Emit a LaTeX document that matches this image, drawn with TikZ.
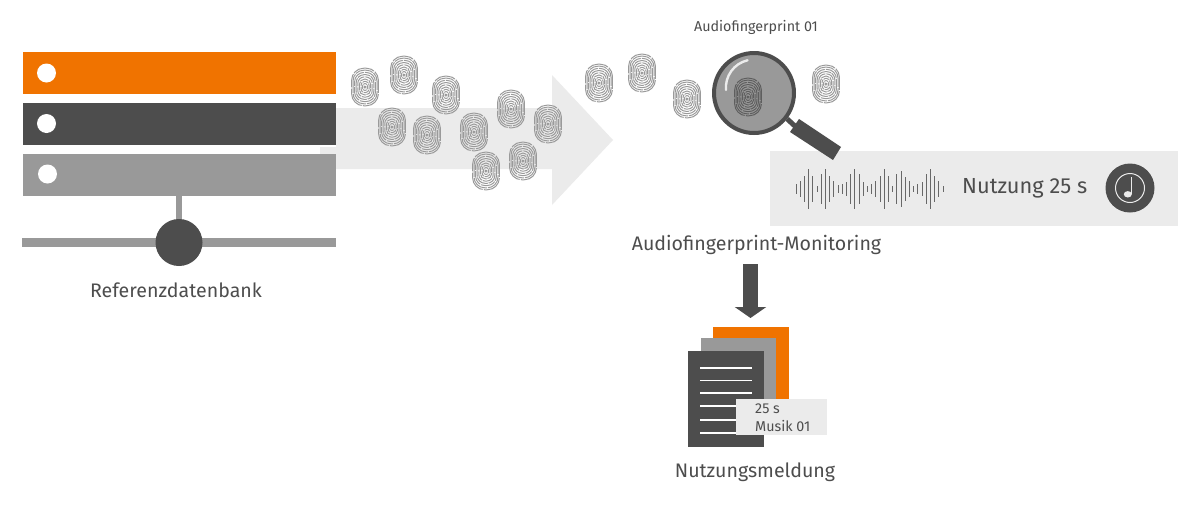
\documentclass[tikz,border=0pt]{standalone}
\usepackage{fontspec}
\usetikzlibrary{arrows.meta}
\setmainfont{Fira Sans}
\definecolor{orangeb}{HTML}{F07300}
\definecolor{darkb}{HTML}{4D4D4D}
\definecolor{grayb}{HTML}{999999}
\definecolor{lightb}{HTML}{EBEBEB}
\definecolor{printb}{HTML}{9A9A9A}
\definecolor{printd}{HTML}{5E5E5E}
\newcommand{\fpshape}[1]{%
  \foreach \r/\d/\g/\p in {0.8/2/0.5/0,2.4/4/0.7/1,4/6/0.8/5,5.6/8/0.7/2,7.2/10/0.9/7,8.8/13/0.8/3,10.4/15/1/11,12/18/1/6,13.4/22/1.2/15}{
    \draw[#1,line width=1pt,dash pattern=on \d pt off \g pt,dash phase=\p pt,rounded corners=0.9*\r pt] (-\r,-1.4*\r) rectangle (\r,1.4*\r);
  }}
\tikzset{
  fprint/.pic={\fpshape{printb}},
  fpdark/.pic={\fpshape{printd}},
  barbox/.style={rectangle,inner sep=0pt,minimum width=313pt,minimum height=42pt},
  dot/.style={circle,fill=white,inner sep=0pt,minimum size=19pt},
  lbl/.style={text=darkb,inner sep=0pt,font=\fontsize{19.6}{22}\selectfont},
  small/.style={text=darkb,inner sep=0pt,font=\fontsize{14.3}{16}\selectfont},
  wave/.style={draw=darkb!85!white,line width=0.9pt},
  docline/.style={draw=white,line width=1.2pt}
}
\begin{document}
\begin{tikzpicture}[x=1pt,y=-1pt]
\useasboundingbox[fill=white] (0,0) rectangle (1200,504);
% big arrow
\fill[lightb] (320,169) -- (320,147) -- (336,147) -- (336,108) -- (552,108) -- (552,75) -- (613,140) -- (552,205) -- (552,169) -- cycle;
% database
\node[barbox,fill=orangeb] (b1) at (179.5,73) {};
\node[barbox,fill=darkb] (b2) at (179.5,124) {};
\node[barbox,fill=grayb] (b3) at (179.5,174.5) {};
\node[dot] (d1) at (46.5,73) {};
\node[dot] (d2) at (46.5,123.5) {};
\node[dot] (d3) at (47.5,174) {};
\coordinate (busl) at (22,242.5);
\coordinate (busr) at (336,242.5);
\coordinate (hubc) at (179,242.5);
\draw[grayb,line width=9pt] (busl) -- (busr);
\draw[grayb,line width=6.5pt] (b3.south -| hubc) -- (hubc);
\node[circle,fill=darkb,inner sep=0pt,minimum size=47pt] (hub) at (hubc) {};
\node[lbl] (reftext) at (176,290) {Referenzdatenbank};
% fingerprints
\foreach \x/\y in {365/87,404/75,446/95,392/127,427/135,474/132,511/109,548/124,523/161,486/171,599/83,642/73,687/99,826/84}{
  \pic at (\x,\y) {fprint};
}
% panel
\fill[lightb] (770,151) rectangle (1178,226);
% magnifier
\fill[darkb] (799,119) -- (841,147) -- (833,160) -- (790,132) -- cycle;
\coordinate (neckb) at (797,128);
\node[circle,draw=darkb,line width=4pt,fill=grayb,inner sep=0pt,minimum size=80pt] (lens) at (754,93) {};
\draw[darkb,line width=5pt] (lens.-38) -- (neckb);
\pic at (748,97) {fpdark};
\draw[lightb,line width=2.4pt,line cap=round] (726,90) arc[start angle=185,end angle=103,radius=28pt];
\node[small] (aftext) at (756,27) {Audiofingerprint 01};
\foreach \i/\h in {0/5,1/8,2/13,3/20,4/13,5/3,6/15,7/20,8/13,9/8,10/4,11/5,12/7,13/15,14/20,15/15,16/7,17/3,18/5,19/8,20/13,21/20,22/13,23/3,24/15,25/18,26/12,27/8,28/3,29/5,30/7,31/15,32/20,33/13,34/8,35/3}{
  \draw[wave] ({796+4.2*\i},{189-\h}) -- ({796+4.2*\i},{189+\h});
}
\node[lbl,anchor=west,font=\fontsize{21.8}{24}\selectfont] (usetext) at (962,188.5) {Nutzung 25 s};
\node[circle,fill=darkb,inner sep=0pt,minimum size=49pt] (musicdisc) at (1130,188) {};
\node[circle,draw=lightb,line width=1pt,inner sep=0pt,minimum size=29pt] (musicring) at (1130,188) {};
\fill[lightb] (1127.8,194.3) ellipse[x radius=4pt,y radius=3.2pt];
\draw[lightb,line width=1.3pt] (1131.4,194) -- (1131.4,177);
% monitoring
\node[lbl] (montext) at (756.5,245) {Audiofingerprint-Monitoring};
\coordinate (arrtop) at (750.5,264);
\coordinate (arrtip) at (750.5,318);
\draw[darkb,line width=15pt,-{Triangle[length=11pt,width=31pt]}] (arrtop) -- (arrtip);
% documents
\fill[orangeb] (713,327) rectangle (789,400);
\fill[grayb] (701,338) rectangle (776,400);
\fill[darkb] (688,351) rectangle (764,447);
\foreach \y in {368,380.5,393,406,420,433}{\draw[docline] (700,\y) -- (752,\y);}
\fill[lightb] (736,399) rectangle (827,435);
\node[small,anchor=west] (t25) at (755,409) {25 s};
\node[small,anchor=west] (tmusik) at (755,426) {Musik 01};
\node[lbl] (nutztext) at (755,472) {Nutzungsmeldung};
\end{tikzpicture}
\end{document}
